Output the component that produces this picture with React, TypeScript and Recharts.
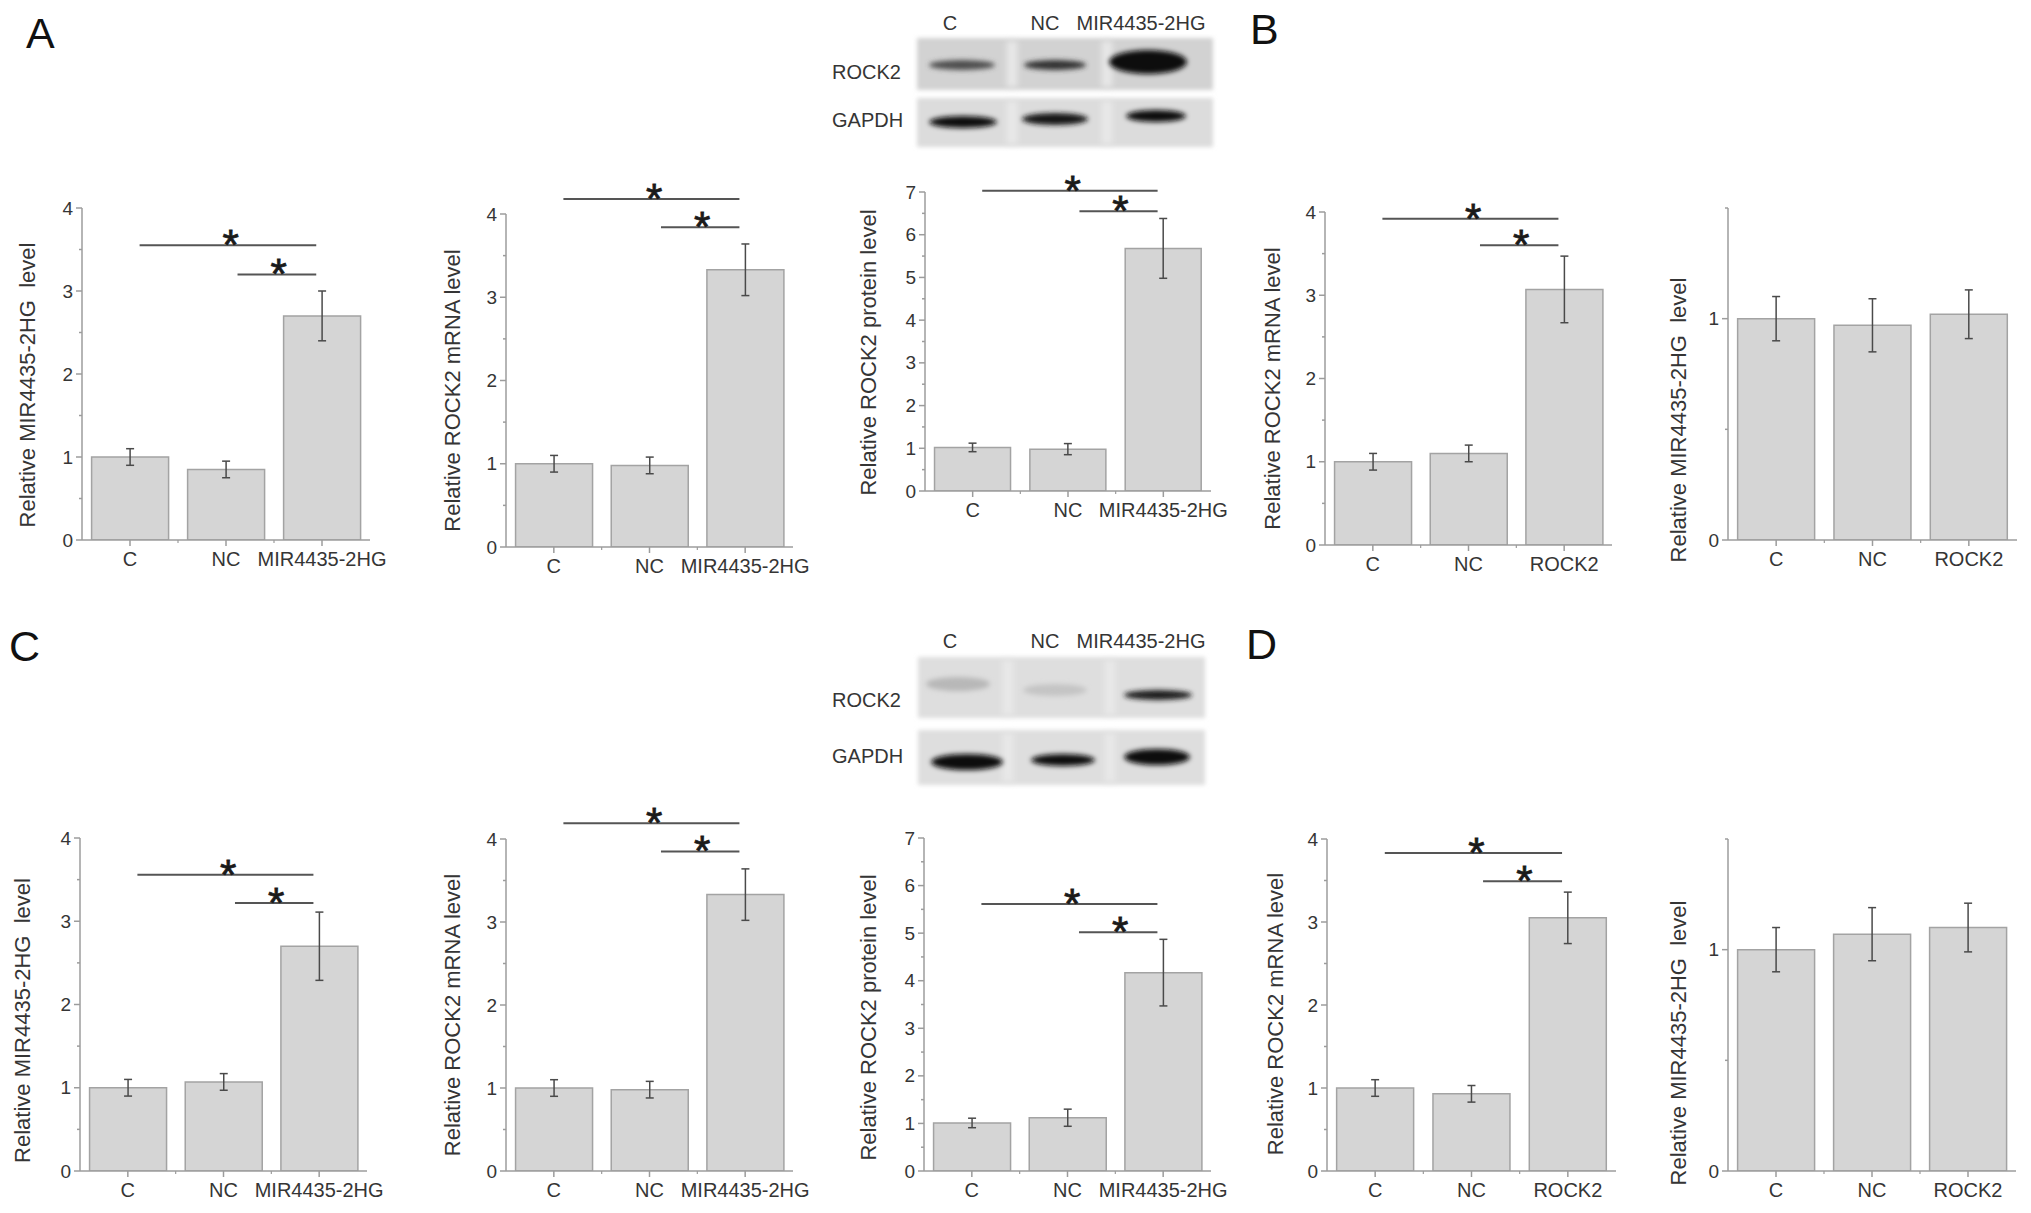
import React from "react";
import {
  BarChart,
  Bar,
  XAxis,
  YAxis,
  ErrorBar,
  ReferenceLine,
  ReferenceDot,
} from "recharts";

const FONT = '"Liberation Sans", Arial, Helvetica, sans-serif';
const INK = "#353535";
const AXIS = "#9c9c9c";
const BAR_FILL = "#d5d5d5";
const BAR_EDGE = "#a3a3a3";
const SIG = "#555555";

// categories
const mirGroups = ["C", "NC", "MIR4435-2HG"];
const rockGroups = ["C", "NC", "ROCK2"];

// y ticks (minor + labelled)
const ticks4 = [0, 0.5, 1, 1.5, 2, 2.5, 3, 3.5, 4];
const labels4 = [0, 1, 2, 3, 4];
const ticks7 = [0, 0.5, 1, 1.5, 2, 2.5, 3, 3.5, 4, 4.5, 5, 5.5, 6, 6.5, 7];
const labels7 = [0, 1, 2, 3, 4, 5, 6, 7];
const ticks15 = [0, 0.5, 1, 1.5];
const labels15 = [0, 1];

// panel A
const aMirMean = [1.0, 0.85, 2.7];
const aMirErr = [0.1, 0.1, 0.3];
const aMirSig = [3.55, 3.2];
const aRnaMean = [1.0, 0.98, 3.33];
const aRnaErr = [0.1, 0.1, 0.31];
const aRnaSig = [4.18, 3.84];
const aProtMean = [1.02, 0.98, 5.68];
const aProtErr = [0.1, 0.13, 0.7];
const aProtSig = [7.03, 6.55];

// panel B
const bRnaMean = [1.0, 1.1, 3.07];
const bRnaErr = [0.1, 0.1, 0.4];
const bRnaSig = [3.92, 3.6];
const bMirMean = [1.0, 0.97, 1.02];
const bMirErr = [0.1, 0.12, 0.11];

// panel C
const cMirMean = [1.0, 1.07, 2.7];
const cMirErr = [0.1, 0.1, 0.41];
const cMirSig = [3.56, 3.22];
const cRnaMean = [1.0, 0.98, 3.33];
const cRnaErr = [0.1, 0.1, 0.31];
const cRnaSig = [4.19, 3.85];
const cProtMean = [1.01, 1.12, 4.17];
const cProtErr = [0.1, 0.18, 0.7];
const cProtSig = [5.61, 5.02];

// panel D
const dRnaMean = [1.0, 0.93, 3.05];
const dRnaErr = [0.1, 0.1, 0.31];
const dRnaSig = [3.83, 3.49];
const dMirMean = [1.0, 1.07, 1.1];
const dMirErr = [0.1, 0.12, 0.11];

const YW = 72;
const MT = 50;
const MR = 40;
const XH = 45;
const MB = 5;

const YTick = (p: any) => {
  const { x, y, payload, labels } = p;
  const major = labels.includes(payload.value);
  return (
    <g>
      <line x1={x - (major ? 6 : 3)} x2={x} y1={y} y2={y} stroke={AXIS} strokeWidth={1.5} />
      {major && (
        <text x={x - 9} y={y} textAnchor="end" dominantBaseline="central" fontSize={19} fill={INK} fontFamily={FONT}>
          {payload.value}
        </text>
      )}
    </g>
  );
};

const XTick = (p: any) => {
  const { x, y, payload, index, band } = p;
  return (
    <g>
      <line x1={x} x2={x} y1={y} y2={y + 6} stroke={AXIS} strokeWidth={1.5} />
      {index > 0 && <line x1={x - band / 2} x2={x - band / 2} y1={y} y2={y + 3} stroke={AXIS} strokeWidth={1.2} />}
      <text x={x} y={y + 19} textAnchor="middle" dominantBaseline="central" fontSize={20} fill={INK} fontFamily={FONT}>
        {payload.value}
      </text>
    </g>
  );
};

const AxisTitle = (p: any) => {
  const vb = p.viewBox || { x: 0, y: 0, width: 0, height: 0 };
  const cx = vb.x + vb.width - p.shiftX;
  const cy = vb.y + vb.height / 2 + p.shiftY;
  return (
    <text
      x={cx}
      y={cy}
      transform={`rotate(-90 ${cx} ${cy})`}
      textAnchor="middle"
      dominantBaseline="central"
      fontSize={22}
      fill={INK}
      fontFamily={FONT}
      style={{ whiteSpace: "pre" }}
    >
      {p.caption}
    </text>
  );
};

function Panel({ cfg }: { cfg: any }) {
  const { axisX, top, plotW, plotH, max, ticks, labels, title, shiftX, shiftY, groups, mean, err, sig } = cfg;
  const data = groups.map((g: string, i: number) => ({ group: g, mean: mean[i], err: err[i] }));
  const band = plotW / 3;
  // brackets: C..last (long) and NC..last (short); ends pulled in a little from the bar centres
  const brackets = sig
    ? [
        { from: groups[0], to: groups[2], y: sig[0], pullL: 0.1, star: groups[1], starDx: 0.05 },
        { from: groups[1], to: groups[2], y: sig[1], pullL: 0.12, star: groups[2], starDx: -0.45 },
      ]
    : [];
  return (
    <div style={{ position: "absolute", left: axisX - YW, top: top - MT }}>
      <BarChart
        width={YW + plotW + MR}
        height={MT + plotH + XH + MB}
        data={data}
        margin={{ top: MT, right: MR, bottom: MB, left: 0 }}
        barCategoryGap="10%"
        style={{ overflow: "visible" }}
      >
        <XAxis
          dataKey="group"
          height={XH}
          tickSize={0}
          tickMargin={0}
          interval={0}
          tickLine={false}
          axisLine={{ stroke: AXIS, strokeWidth: 1.5 }}
          tick={(t: any) => <XTick {...t} band={band} />}
        />
        <YAxis
          width={YW}
          domain={[0, max]}
          ticks={ticks}
          interval={0}
          tickSize={0}
          tickMargin={0}
          tickLine={false}
          allowDataOverflow
          axisLine={{ stroke: AXIS, strokeWidth: 1.5 }}
          tick={(t: any) => <YTick {...t} labels={labels} />}
          label={<AxisTitle caption={title} shiftX={shiftX} shiftY={shiftY} />}
        />
        <Bar dataKey="mean" fill={BAR_FILL} stroke={BAR_EDGE} strokeWidth={1.5} isAnimationActive={false}>
          <ErrorBar dataKey="err" width={4} stroke="#4a4a4a" strokeWidth={1.5} />
        </Bar>
        {brackets.map((b, i) => (
          <ReferenceLine
            key={"l" + i}
            segment={[{ x: b.from, y: b.y }, { x: b.to, y: b.y }]}
            ifOverflow="visible"
            shape={(s: any) => (
              <line
                x1={s.x1 + b.pullL * band}
                x2={s.x2 - 0.06 * band}
                y1={s.y1}
                y2={s.y2}
                stroke={SIG}
                strokeWidth={2}
              />
            )}
          />
        ))}
        {brackets.map((b, i) => (
          <ReferenceDot
            key={"s" + i}
            x={b.star}
            y={b.y}
            r={1}
            ifOverflow="visible"
            shape={(s: any) => (
              <text
                x={s.cx + b.starDx * band}
                y={s.cy + 14}
                textAnchor="middle"
                fontSize={42}
                fill="#1a1a1a"
                stroke="#1a1a1a"
                strokeWidth={0.8}
                fontFamily={FONT}
              >
                *
              </text>
            )}
          />
        ))}
      </BarChart>
    </div>
  );
}

const mirTitle = "Relative MIR4435-2HG  level";
const rnaTitle = "Relative ROCK2 mRNA level";
const protTitle = "Relative ROCK2 protein level";

const panels = [
  { axisX: 82, top: 208, plotW: 288, plotH: 332, max: 4, ticks: ticks4, labels: labels4, title: mirTitle, shiftX: 55, shiftY: 11, groups: mirGroups, mean: aMirMean, err: aMirErr, sig: aMirSig },
  { axisX: 506, top: 214, plotW: 287, plotH: 333, max: 4, ticks: ticks4, labels: labels4, title: rnaTitle, shiftX: 54, shiftY: 10, groups: mirGroups, mean: aRnaMean, err: aRnaErr, sig: aRnaSig },
  { axisX: 925, top: 192, plotW: 286, plotH: 299, max: 7, ticks: ticks7, labels: labels7, title: protTitle, shiftX: 57, shiftY: 11, groups: mirGroups, mean: aProtMean, err: aProtErr, sig: aProtSig },
  { axisX: 1325, top: 212, plotW: 287, plotH: 333, max: 4, ticks: ticks4, labels: labels4, title: rnaTitle, shiftX: 53, shiftY: 10, groups: rockGroups, mean: bRnaMean, err: bRnaErr, sig: bRnaSig },
  { axisX: 1728, top: 208, plotW: 289, plotH: 332, max: 1.5, ticks: ticks15, labels: labels15, title: mirTitle, shiftX: 50, shiftY: 46, groups: rockGroups, mean: bMirMean, err: bMirErr, sig: null },
  { axisX: 80, top: 838, plotW: 287, plotH: 333, max: 4, ticks: ticks4, labels: labels4, title: mirTitle, shiftX: 58, shiftY: 16, groups: mirGroups, mean: cMirMean, err: cMirErr, sig: cMirSig },
  { axisX: 506, top: 839, plotW: 287, plotH: 332, max: 4, ticks: ticks4, labels: labels4, title: rnaTitle, shiftX: 54, shiftY: 10, groups: mirGroups, mean: cRnaMean, err: cRnaErr, sig: cRnaSig },
  { axisX: 924, top: 838, plotW: 287, plotH: 333, max: 7, ticks: ticks7, labels: labels7, title: protTitle, shiftX: 56, shiftY: 13, groups: mirGroups, mean: cProtMean, err: cProtErr, sig: cProtSig },
  { axisX: 1327, top: 839, plotW: 289, plotH: 332, max: 4, ticks: ticks4, labels: labels4, title: rnaTitle, shiftX: 52, shiftY: 9, groups: rockGroups, mean: dRnaMean, err: dRnaErr, sig: dRnaSig },
  { axisX: 1728, top: 839, plotW: 288, plotH: 332, max: 1.5, ticks: ticks15, labels: labels15, title: mirTitle, shiftX: 50, shiftY: 38, groups: rockGroups, mean: dMirMean, err: dMirErr, sig: null },
];

// western blot strips (picture only, not chart data)
const blotA = {
  labelY: 23,
  rock: { y: 38, h: 52, x: 917, w: 296, gaps: [1012, 1107], bg: "#d2d2d2" },
  gapdh: { y: 98, h: 49, x: 917, w: 296, gaps: [1012, 1107], bg: "#dcdcdc" },
  rockBands: [
    { cx: 962, cy: 65, rx: 33, ry: 5, c: "#4d4d4d" },
    { cx: 1055, cy: 65, rx: 31, ry: 5, c: "#333" },
    { cx: 1148, cy: 62, rx: 39, ry: 12, c: "#0c0c0c" },
  ],
  gapdhBands: [
    { cx: 963, cy: 122, rx: 34, ry: 6, c: "#111" },
    { cx: 1055, cy: 119, rx: 33, ry: 6, c: "#161616" },
    { cx: 1156, cy: 116, rx: 30, ry: 6, c: "#111" },
  ],
  rockLabelY: 72,
  gapdhLabelY: 120,
};
const blotC = {
  labelY: 641,
  rock: { y: 657, h: 61, x: 918, w: 287, gaps: [1008, 1110], bg: "#dedede" },
  gapdh: { y: 730, h: 55, x: 918, w: 287, gaps: [1008, 1110], bg: "#dedede" },
  rockBands: [
    { cx: 958, cy: 684, rx: 32, ry: 7, c: "#b8b8b8" },
    { cx: 1055, cy: 690, rx: 32, ry: 6, c: "#c4c4c4" },
    { cx: 1158, cy: 695, rx: 34, ry: 5, c: "#1e1e1e" },
  ],
  gapdhBands: [
    { cx: 967, cy: 762, rx: 36, ry: 8, c: "#0d0d0d" },
    { cx: 1063, cy: 760, rx: 32, ry: 6, c: "#111" },
    { cx: 1157, cy: 757, rx: 33, ry: 8, c: "#0d0d0d" },
  ],
  rockLabelY: 700,
  gapdhLabelY: 756,
};

function Strip({ s }: { s: any }) {
  return (
    <g>
      <rect x={s.x} y={s.y} width={s.w} height={s.h} fill={s.bg} filter="url(#soft)" />
      {s.gaps.map((g: number) => (
        <rect key={g} x={g - 5} y={s.y + 3} width={10} height={s.h - 6} fill="#e9e9e9" filter="url(#wide)" />
      ))}
    </g>
  );
}

function Blot({ b }: { b: any }) {
  const lab = { fontSize: 20, fill: INK, fontFamily: FONT, dominantBaseline: "central" as const };
  return (
    <g>
      <text x={950} y={b.labelY} textAnchor="middle" {...lab}>C</text>
      <text x={1045} y={b.labelY} textAnchor="middle" {...lab}>NC</text>
      <text x={1141} y={b.labelY} textAnchor="middle" {...lab}>MIR4435-2HG</text>
      <text x={832} y={b.rockLabelY} {...lab}>ROCK2</text>
      <text x={832} y={b.gapdhLabelY} {...lab}>GAPDH</text>
      <Strip s={b.rock} />
      <Strip s={b.gapdh} />
      {[...b.rockBands, ...b.gapdhBands].map((d: any, i: number) => (
        <ellipse key={i} cx={d.cx} cy={d.cy} rx={d.rx} ry={d.ry} fill={d.c} filter="url(#band)" />
      ))}
    </g>
  );
}

export default function App() {
  const letter = { fontSize: 43, fill: "#111", fontFamily: FONT };
  return (
    <div style={{ position: "absolute", left: 0, top: 0, width: 2031, height: 1213, background: "#fff", overflow: "hidden" }}>
      <svg width={2031} height={1213} style={{ position: "absolute", left: 0, top: 0 }}>
        <defs>
          <filter id="soft" x="-20%" y="-20%" width="140%" height="140%">
            <feGaussianBlur stdDeviation="2" />
          </filter>
          <filter id="wide" x="-200%" y="-20%" width="500%" height="140%">
            <feGaussianBlur stdDeviation="3" />
          </filter>
          <filter id="band" x="-30%" y="-100%" width="160%" height="300%">
            <feGaussianBlur stdDeviation="2.5" />
          </filter>
        </defs>
        <text x={26} y={48} {...letter}>A</text>
        <text x={1250} y={44} {...letter}>B</text>
        <text x={9} y={661} {...letter}>C</text>
        <text x={1246} y={659} {...letter}>D</text>
        <Blot b={blotA} />
        <Blot b={blotC} />
      </svg>
      {panels.map((cfg, i) => (
        <Panel key={i} cfg={cfg} />
      ))}
    </div>
  );
}
